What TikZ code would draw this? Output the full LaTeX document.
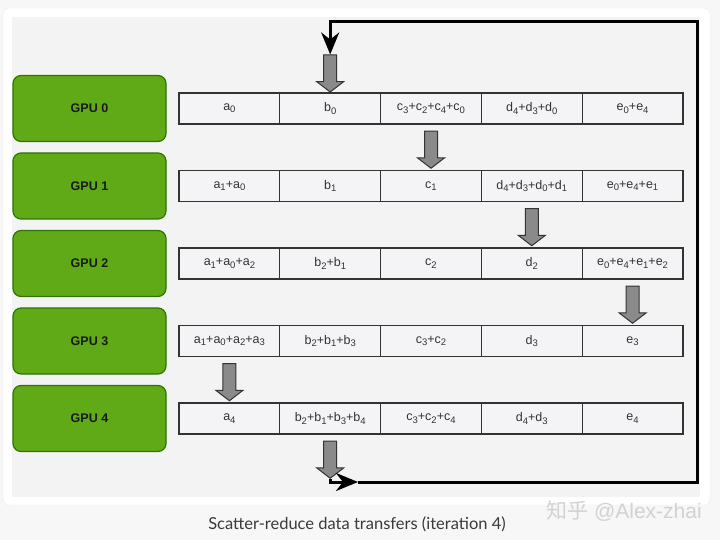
\documentclass[tikz,border=0pt]{standalone}
\usepackage{fontspec}
\setmainfont{Liberation Sans}
\newfontfamily\capfont{Lato}
\newfontfamily\cjkfont{Noto Sans CJK SC}
\usetikzlibrary{shapes.arrows,arrows.meta}
\definecolor{pagebg}{HTML}{F7F7F7}
\definecolor{innerbg}{HTML}{F3F3F3}
\definecolor{gpugreen}{HTML}{60A917}
\definecolor{gpuborder}{HTML}{2D7600}
\definecolor{cellfill}{HTML}{F4F4F6}
\definecolor{cellline}{HTML}{333333}
\definecolor{blockgray}{HTML}{8A8A8A}
\definecolor{captext}{HTML}{3A3A3A}
\definecolor{wmark}{HTML}{D2D2D2}
\newcommand\subs[1]{\raisebox{-0.35ex}{\fontsize{9.5}{10}\selectfont #1}}
\tikzset{
  gpubox/.style={draw=gpuborder, fill=gpugreen, line width=1.2pt, rounded corners=8pt,
    minimum width=153pt, minimum height=66pt, inner sep=0pt,
    font=\fontsize{12.5}{14}\selectfont\bfseries, text=black!90},
  cell/.style={draw=cellline, fill=cellfill, line width=1.2pt,
    minimum width=100.8pt, minimum height=31pt, inner sep=0pt,
    font=\fontsize{12.5}{14}\selectfont, text=black!80},
  blockarrow/.style={single arrow, rotate=-90, draw=black!80, fill=blockgray, line width=1pt,
    minimum height=37pt, inner xsep=0pt, inner ysep=6pt, single arrow head extend=7pt,
    single arrow tip angle=105},
  loopline/.style={line width=3pt, draw=black},
  loophead/.style={-{Stealth[length=22pt,width=18pt,inset=7pt]}}
}
\begin{document}
\begin{tikzpicture}[x=1pt,y=-1pt]
\useasboundingbox (0,0) rectangle (720,540);
\fill[pagebg] (0,0) rectangle (720,540);
\fill[white, draw=black!8] (3,8) [rounded corners=6pt] rectangle (710,505);
\fill[innerbg] (12,17) rectangle (700,497);

% GPU boxes
\foreach \i/\y in {0/108.5,1/186,2/263.5,3/341,4/418.5}{
  \node[gpubox] (g\i) at (89.5,\y) {GPU \i};
}

% cells
\node[cell] (c00) at (229.4,108.5) {a\subs{0}};
\node[cell] (c01) at (330.2,108.5) {b\subs{0}};
\node[cell] (c02) at (431,108.5) {c\subs{3}+c\subs{2}+c\subs{4}+c\subs{0}};
\node[cell] (c03) at (531.8,108.5) {d\subs{4}+d\subs{3}+d\subs{0}};
\node[cell] (c04) at (632.6,108.5) {e\subs{0}+e\subs{4}};

\node[cell] (c10) at (229.4,186) {a\subs{1}+a\subs{0}};
\node[cell] (c11) at (330.2,186) {b\subs{1}};
\node[cell] (c12) at (431,186) {c\subs{1}};
\node[cell] (c13) at (531.8,186) {d\subs{4}+d\subs{3}+d\subs{0}+d\subs{1}};
\node[cell] (c14) at (632.6,186) {e\subs{0}+e\subs{4}+e\subs{1}};

\node[cell] (c20) at (229.4,263.5) {a\subs{1}+a\subs{0}+a\subs{2}};
\node[cell] (c21) at (330.2,263.5) {b\subs{2}+b\subs{1}};
\node[cell] (c22) at (431,263.5) {c\subs{2}};
\node[cell] (c23) at (531.8,263.5) {d\subs{2}};
\node[cell] (c24) at (632.6,263.5) {e\subs{0}+e\subs{4}+e\subs{1}+e\subs{2}};

\node[cell] (c30) at (229.4,341) {a\subs{1}+a\subs{0}+a\subs{2}+a\subs{3}};
\node[cell] (c31) at (330.2,341) {b\subs{2}+b\subs{1}+b\subs{3}};
\node[cell] (c32) at (431,341) {c\subs{3}+c\subs{2}};
\node[cell] (c33) at (531.8,341) {d\subs{3}};
\node[cell] (c34) at (632.6,341) {e\subs{3}};

\node[cell] (c40) at (229.4,418.5) {a\subs{4}};
\node[cell] (c41) at (330.2,418.5) {b\subs{2}+b\subs{1}+b\subs{3}+b\subs{4}};
\node[cell] (c42) at (431,418.5) {c\subs{3}+c\subs{2}+c\subs{4}};
\node[cell] (c43) at (531.8,418.5) {d\subs{4}+d\subs{3}};
\node[cell] (c44) at (632.6,418.5) {e\subs{4}};

% block arrows
\node[blockarrow] (ba0) at (330.2,71) {};
\node[blockarrow] (ba1) at (431,147.25) {};
\node[blockarrow] (ba2) at (531.8,224.75) {};
\node[blockarrow] (ba3) at (632.6,302.25) {};
\node[blockarrow] (ba4) at (229.4,379.75) {};
\node[blockarrow] (ba5) at (330.2,457.25) {};

% loop connector
\coordinate (bt) at (358,482);
\coordinate (br) at (697,482);
\coordinate (tr) at (697,22);
\coordinate (tl) at (330.2,22);
\draw[loopline, loophead] (ba5.tip) |- (bt);
\draw[loopline, loophead] (bt) -- (br) -- (tr) -- (tl) -- (ba0.tail);

% caption and watermark
\node[font=\capfont\fontsize{16.5}{20}\selectfont, text=captext] (cap) at (357,524) {Scatter-reduce data transfers (iteration 4)};
\node[font=\fontsize{21}{24}\selectfont, text=wmark] (wm) at (624,511) {{\cjkfont 知乎} @Alex-zhai};
\end{tikzpicture}
\end{document}
